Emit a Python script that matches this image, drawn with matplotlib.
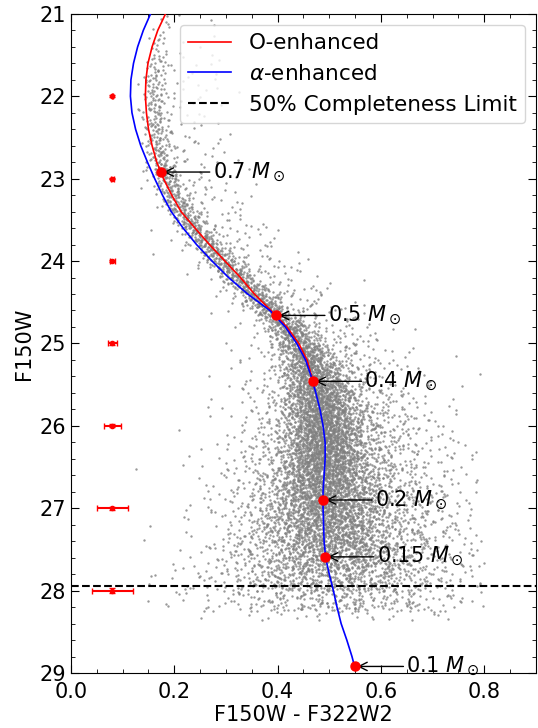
import numpy as np
import matplotlib
matplotlib.use("Agg")
import matplotlib.pyplot as plt
from matplotlib.ticker import MultipleLocator

# ---- photometry cloud, described per 0.25 mag bin of F150W ----
bin_lo = np.arange(21.0, 28.5, 0.25)
ridge_col = [0.182, 0.172, 0.165, 0.162, 0.162, 0.164, 0.169, 0.179, 0.194, 0.214,
             0.242, 0.275, 0.312, 0.352, 0.392, 0.430, 0.455, 0.470, 0.480, 0.487,
             0.490, 0.490, 0.490, 0.492, 0.495, 0.498, 0.502, 0.510, 0.515, 0.520]
core_n = [6, 12, 25, 32, 38, 42, 50, 60, 70, 85,
          100, 110, 125, 140, 160, 200, 250, 320, 390, 440,
          470, 470, 440, 410, 380, 330, 260, 200, 100, 12]
core_sig = [0.012, 0.012, 0.012, 0.012, 0.013, 0.013, 0.014, 0.014, 0.015, 0.015,
            0.016, 0.017, 0.018, 0.019, 0.020, 0.022, 0.028, 0.032, 0.035, 0.037,
            0.039, 0.042, 0.048, 0.054, 0.060, 0.068, 0.080, 0.095, 0.110, 0.120]
halo_n = [4, 6, 12, 14, 15, 17, 20, 22, 25, 28,
          32, 36, 42, 48, 58, 70, 90, 120, 160, 200,
          240, 270, 300, 320, 330, 330, 300, 260, 170, 14]
halo_shift = [0.04, 0.04, 0.05, 0.05, 0.05, 0.05, 0.05, 0.05, 0.05, 0.05,
              0.05, 0.05, 0.05, 0.05, 0.05, 0.05, 0.04, 0.04, 0.03, 0.03,
              0.03, 0.03, 0.03, 0.03, 0.03, 0.03, 0.02, 0.0, 0.0, 0.0]
halo_sig = [0.04, 0.04, 0.05, 0.05, 0.05, 0.05, 0.055, 0.055, 0.055, 0.06,
            0.06, 0.06, 0.065, 0.065, 0.07, 0.075, 0.08, 0.085, 0.09, 0.095,
            0.10, 0.105, 0.11, 0.115, 0.12, 0.125, 0.135, 0.15, 0.16, 0.16]
col_range = (0.12, 0.80)
faintest_mag = 28.36

# ---- isochrones (F150W - F322W2, F150W) ----
o_mag = [21.0, 21.2, 21.4, 21.6, 21.8, 22.0, 22.2, 22.4, 22.6, 22.8, 23.0, 23.2,
         23.4, 23.6, 23.8, 24.0, 24.2, 24.4, 24.6, 24.8, 25.0, 25.2, 25.4, 25.46]
o_col = [0.183, 0.168, 0.157, 0.149, 0.145, 0.144, 0.146, 0.150, 0.157, 0.166,
         0.179, 0.195, 0.213, 0.240, 0.268, 0.298, 0.328, 0.355, 0.387, 0.418,
         0.441, 0.457, 0.466, 0.468]
a_mag = [21.0, 21.2, 21.4, 21.6, 21.8, 22.0, 22.2, 22.4, 22.6, 22.8, 23.0, 23.2,
         23.4, 23.6, 23.8, 24.0, 24.2, 24.4, 24.6, 24.8, 25.0, 25.2, 25.4, 25.6,
         25.8, 26.0, 26.2, 26.4, 26.6, 26.8, 27.0, 27.2, 27.4, 27.6, 27.8, 28.0,
         28.2, 28.4, 28.6, 28.8, 28.92]
a_col = [0.154, 0.140, 0.129, 0.121, 0.116, 0.115, 0.118, 0.125, 0.135, 0.148,
         0.162, 0.177, 0.194, 0.217, 0.243, 0.273, 0.305, 0.342, 0.385, 0.415,
         0.437, 0.454, 0.465, 0.474, 0.482, 0.488, 0.492, 0.492, 0.490, 0.488,
         0.488, 0.489, 0.490, 0.493, 0.500, 0.508, 0.515, 0.523, 0.534, 0.544,
         0.549]

# ---- stellar masses marked along the isochrones ----
masses = ["0.7", "0.5", "0.4", "0.2", "0.15", "0.1"]
mass_col = [0.174, 0.397, 0.468, 0.488, 0.492, 0.549]
mass_mag = [22.92, 24.66, 25.46, 26.90, 27.59, 28.92]

# ---- typical photometric errors ----
err_mag = [22, 23, 24, 25, 26, 27, 28]
err_col = [0.08] * 7
err_dcol = [0.001, 0.003, 0.005, 0.009, 0.017, 0.030, 0.040]
err_dmag = [0.01, 0.01, 0.01, 0.02, 0.02, 0.02, 0.03]

completeness_mag = 27.94


def halton(idx, base):
    out = np.zeros(len(idx))
    f = np.ones(len(idx))
    i = np.array(idx, dtype=float)
    while np.any(i > 0):
        f /= base
        out += f * (i % base)
        i = np.floor(i / base)
    return out


# spread the stars of each bin with a low-discrepancy sequence
xs, ys = [], []
start = 1
for k, lo in enumerate(bin_lo):
    hi = min(lo + 0.25, faintest_mag)
    for n, shift, sig in ((core_n[k], 0.0, core_sig[k]),
                          (halo_n[k], halo_shift[k], halo_sig[k])):
        idx = np.arange(start, start + n)
        start += n
        m = lo + (hi - lo) * halton(idx, 2)
        r = np.sqrt(-2.0 * np.log(halton(idx, 3)))
        z = r * np.cos(2 * np.pi * halton(idx, 5))
        ridge = np.interp(m, bin_lo + 0.125, ridge_col)
        xs.append(ridge + shift + sig * z)
        ys.append(m)
xs = np.concatenate(xs)
ys = np.concatenate(ys)
keep = (xs > col_range[0]) & (xs < col_range[1])
xs, ys = xs[keep], ys[keep]

plt.rcParams['font.size'] = 15
fig = plt.figure(figsize=(5.38, 7.28), dpi=100)
ax = fig.add_axes([0.132, 0.0755, 0.864, 0.9055])

ax.scatter(xs, ys, s=3, color='gray', alpha=0.8, linewidths=0, zorder=1)
ax.plot(o_col, o_mag, color='red', lw=1.2, label='O-enhanced', zorder=3)
ax.plot(a_col, a_mag, color='blue', lw=1.2, label=r'$\alpha$-enhanced', zorder=3)
ax.axhline(completeness_mag, color='black', ls='--', lw=1.5,
           label='50% Completeness Limit', zorder=2)
ax.errorbar(err_col, err_mag, xerr=err_dcol, yerr=err_dmag, fmt='o', color='red',
            ms=3, capsize=2, elinewidth=1.5, zorder=4)

ax.plot(mass_col, mass_mag, 'o', color='red', ms=6.5, zorder=5)
for lab, x, y in zip(masses, mass_col, mass_mag):
    ax.annotate(lab + r' $M_\odot$', xy=(x, y), xytext=(x + 0.1, y),
                va='center', ha='left', fontsize=15,
                arrowprops=dict(arrowstyle='->', color='black', lw=1,
                                shrinkA=0, shrinkB=2))

ax.set_xlim(0.0, 0.9)
ax.set_ylim(29, 21)
ax.xaxis.set_major_locator(MultipleLocator(0.2))
ax.xaxis.set_minor_locator(MultipleLocator(0.05))
ax.yaxis.set_major_locator(MultipleLocator(1))
ax.yaxis.set_minor_locator(MultipleLocator(0.2))
ax.tick_params(which='both', direction='in', top=True, right=True)
ax.tick_params(which='major', length=6)
ax.tick_params(which='minor', length=3)
ax.tick_params(axis='x', which='major', pad=6.5)
ax.set_xlabel('F150W - F322W2', labelpad=2)
ax.set_ylabel('F150W')
ax.legend(loc='upper right', fontsize=15.5)

fig.savefig('out.png', dpi=100)
